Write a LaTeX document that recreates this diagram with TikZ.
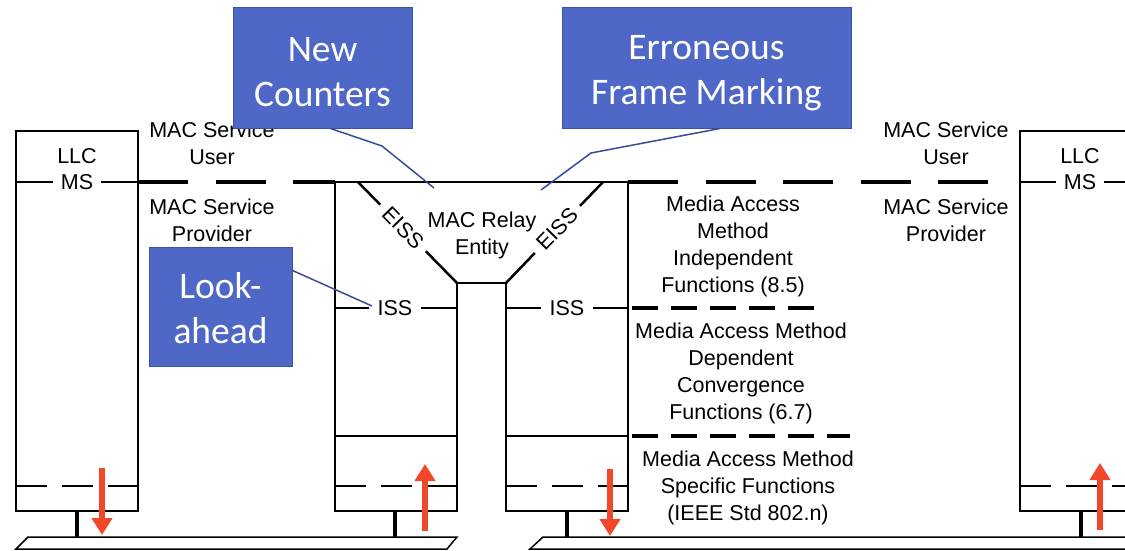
\documentclass[tikz,border=0pt]{standalone}
\usepackage{fontspec}
\setmainfont{Liberation Sans}
\newfontfamily\calfont{Carlito}
\usetikzlibrary{arrows.meta}
\definecolor{callblue}{RGB}{79,104,200}
\definecolor{callborder}{RGB}{60,82,168}
\definecolor{leadblue}{RGB}{55,75,155}
\definecolor{arrred}{RGB}{240,72,40}
\begin{document}
\begin{tikzpicture}[x=1pt,y=-1pt,
  lbl/.style={font=\fontsize{21.5}{27}\selectfont, align=center, inner sep=0pt},
  gaplbl/.style={font=\fontsize{21.5}{27}\selectfont, inner xsep=8pt, inner ysep=0pt},
  eiss/.style={font=\fontsize{21.5}{27}\selectfont, inner xsep=8pt, inner ysep=0pt, fill=white},
  callbox/.style={fill=callblue, draw=callborder, line width=1pt},
  calltext/.style={text=white, font=\calfont\fontsize{37.5}{45}\selectfont, align=center, inner sep=0pt},
  frame/.style={line width=2.5pt},
  service/.style={line width=4pt, dash pattern=on 50pt off 27.5pt},
  layer/.style={line width=4pt, dash pattern=on 26pt off 13pt},
  innerdash/.style={line width=2.5pt, dash pattern=on 31pt off 15pt},
  stem/.style={line width=3.5pt},
  carpet/.style={line width=1.5pt, fill=white},
  flow/.style={draw=arrred, line width=6pt, -{Triangle[width=20pt,length=17pt]}},
  lead/.style={draw=leadblue, line width=1.5pt},
]
\useasboundingbox (0,0) rectangle (1125,551);

% ---------- left LLC station ----------
\draw[frame] (16,131) rectangle (138,511);
\node[lbl] (llcL) at (77,156) {LLC};
\node[gaplbl] (msL) at (77,182) {MS};
\draw[frame] (16,182) -- (msL.west);
\draw[frame] (msL.east) -- (138,182);
\draw[innerdash] (16,486) -- (138,486);
\draw[service] (138,182) -- (335,182);

% ---------- bridge ----------
\draw[frame] (335,182) -- (628,182);
\draw[frame] (335,182) -- (335,511) -- (457,511) -- (457,283) -- (506,283)
  -- (506,511) -- (628,511) -- (628,182);
\draw[frame] (358,182) -- (457,283);
\draw[frame] (603,182) -- (506,283);
\node[eiss, rotate=-45.6] (eissL) at (403,228) {EISS};
\node[eiss, rotate=45.6] (eissR) at (557,229) {EISS};
\node[lbl] (relay) at (482,235) {MAC Relay\\Entity};

\node[gaplbl] (issL) at (395,308) {ISS};
\draw[frame] (335,308) -- (issL.west);
\draw[frame] (issL.east) -- (457,308);
\node[gaplbl] (issR) at (567,308) {ISS};
\draw[frame] (506,308) -- (issR.west);
\draw[frame] (issR.east) -- (628,308);

\draw[frame] (335,436) -- (457,436);
\draw[frame] (506,436) -- (628,436);
\draw[innerdash] (335,486) -- (457,486);
\draw[innerdash] (506,486) -- (628,486);

% ---------- right part ----------
\draw[service] (628,182) -- (990,182);
\draw[layer] (632,308) -- (814,308);
\draw[layer] (632,436) -- (850,436);

\draw[frame] (1125,131) -- (1020,131) -- (1020,511) -- (1125,511);
\node[lbl] (llcR) at (1080,156) {LLC};
\node[gaplbl] (msR) at (1080,182) {MS};
\draw[frame] (1020,182) -- (msR.west);
\draw[frame] (msR.east) -- (1125,182);
\draw[innerdash] (1020,486) -- (1125,486);

% ---------- labels ----------
\node[lbl] (userL) at (212,143) {MAC Service\\User};
\node[lbl] (provL) at (212,220) {MAC Service\\Provider};
\node[lbl] (userR) at (946,143) {MAC Service\\User};
\node[lbl] (provR) at (946,220) {MAC Service\\Provider};
\node[lbl] (indep) at (733,246.5) {Media Access\\Method\\Independent\\Functions (8.5)};
\node[lbl] (dep) at (741,373) {Media Access Method\\Dependent\\Convergence\\Functions (6.7)};
\node[lbl] (spec) at (748,488) {Media Access Method\\Specific Functions\\(IEEE Std 802.n)};

% ---------- stems and carpets ----------
\draw[carpet] (28,537) -- (457,537) -- (447,549) -- (16,549) -- cycle;
\draw[carpet] (1125,537) -- (543,537) -- (530,549) -- (1125,549);
\draw[stem] (77,511) -- (77,537);
\draw[stem] (395,511) -- (395,537);
\draw[stem] (567,511) -- (567,537);
\draw[stem] (1081,511) -- (1081,537);

% ---------- red flow arrows ----------
\coordinate (a1s) at (102,468); \coordinate (a1e) at (102,535);
\coordinate (a2s) at (425,531); \coordinate (a2e) at (425,464);
\coordinate (a3s) at (610,469); \coordinate (a3e) at (610,536);
\coordinate (a4s) at (1100,530); \coordinate (a4e) at (1100,463);
\draw[flow] (a1s) -- (a1e);
\draw[flow] (a2s) -- (a2e);
\draw[flow] (a3s) -- (a3e);
\draw[flow] (a4s) -- (a4e);

% ---------- callouts ----------
\node[callbox, minimum width=179pt, minimum height=120pt] (nc) at (322.5,68) {};
\node[calltext] (ncText) at ([yshift=-4pt]nc.center) {New\\Counters};
\node[callbox, minimum width=289pt, minimum height=120pt] (efm) at (706.5,68) {};
\node[calltext] (efmText) at ([yshift=-5pt]efm.center) {Erroneous\\Frame Marking};
\node[callbox, minimum width=143pt, minimum height=119pt] (la) at (220.5,306.5) {};
\node[calltext] (laText) at ([yshift=-2pt]la.center) {Look-\\ahead};

\coordinate (ncBend) at (382,146);
\coordinate (ncTip) at (434,188);
\coordinate (efBend) at (591,153);
\coordinate (efTip) at (541,190);
\coordinate (laTip) at (372,306);
\draw[lead] ([xshift=8pt]nc.south) -- (ncBend) -- (ncTip);
\draw[lead] ([xshift=13.5pt]efm.south) -- (efBend) -- (efTip);
\draw[lead] ([yshift=36pt]la.east) -- (laTip);
\end{tikzpicture}
\end{document}
